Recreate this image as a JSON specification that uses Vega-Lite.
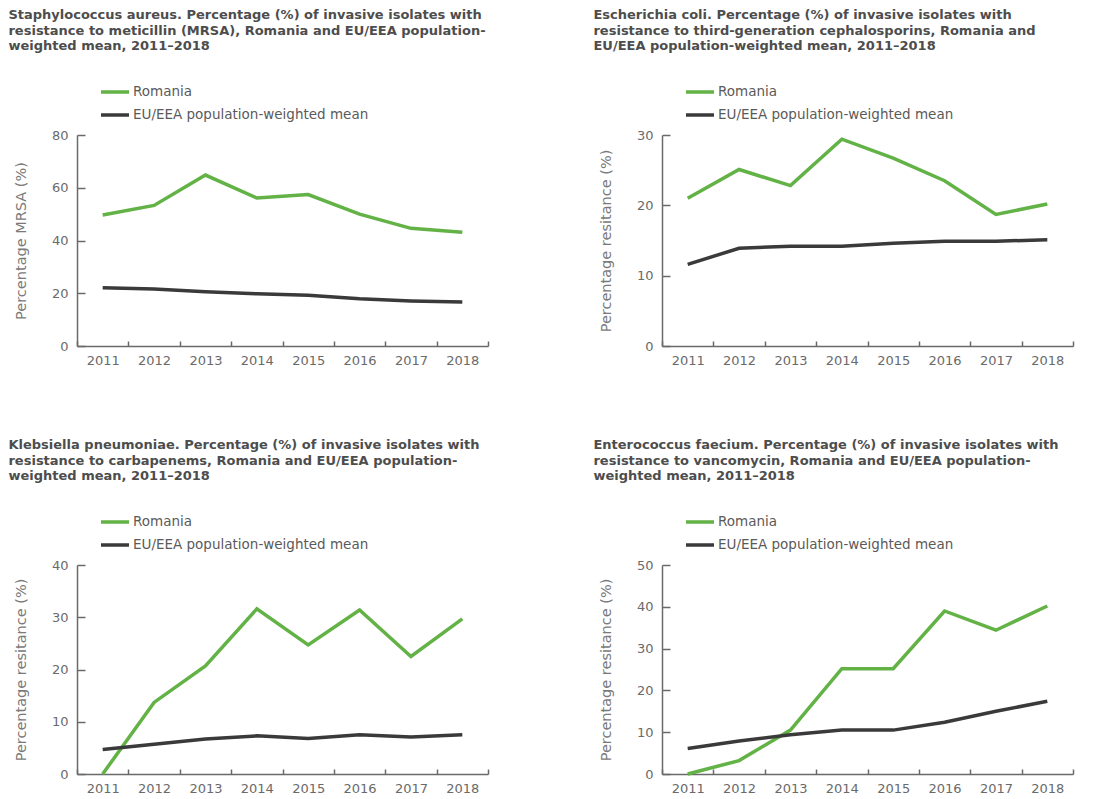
{
  "$schema": "https://vega.github.io/schema/vega-lite/v6.json",
  "background": "white",
  "padding": {"left": 8, "top": 9, "right": 5, "bottom": 2},
  "data": {"values": [
    {"panel": "S", "year": 2011, "series": "Romania", "value": 49.7},
    {"panel": "S", "year": 2012, "series": "Romania", "value": 53.3},
    {"panel": "S", "year": 2013, "series": "Romania", "value": 64.8},
    {"panel": "S", "year": 2014, "series": "Romania", "value": 56.1},
    {"panel": "S", "year": 2015, "series": "Romania", "value": 57.4},
    {"panel": "S", "year": 2016, "series": "Romania", "value": 50.0},
    {"panel": "S", "year": 2017, "series": "Romania", "value": 44.6},
    {"panel": "S", "year": 2018, "series": "Romania", "value": 43.1},
    {"panel": "S", "year": 2011, "series": "EU/EEA population-weighted mean", "value": 22.1},
    {"panel": "S", "year": 2012, "series": "EU/EEA population-weighted mean", "value": 21.6},
    {"panel": "S", "year": 2013, "series": "EU/EEA population-weighted mean", "value": 20.6},
    {"panel": "S", "year": 2014, "series": "EU/EEA population-weighted mean", "value": 19.8},
    {"panel": "S", "year": 2015, "series": "EU/EEA population-weighted mean", "value": 19.2},
    {"panel": "S", "year": 2016, "series": "EU/EEA population-weighted mean", "value": 17.9},
    {"panel": "S", "year": 2017, "series": "EU/EEA population-weighted mean", "value": 17.1},
    {"panel": "S", "year": 2018, "series": "EU/EEA population-weighted mean", "value": 16.7},
    {"panel": "E", "year": 2011, "series": "Romania", "value": 21.0},
    {"panel": "E", "year": 2012, "series": "Romania", "value": 25.1},
    {"panel": "E", "year": 2013, "series": "Romania", "value": 22.8},
    {"panel": "E", "year": 2014, "series": "Romania", "value": 29.4},
    {"panel": "E", "year": 2015, "series": "Romania", "value": 26.7},
    {"panel": "E", "year": 2016, "series": "Romania", "value": 23.5},
    {"panel": "E", "year": 2017, "series": "Romania", "value": 18.7},
    {"panel": "E", "year": 2018, "series": "Romania", "value": 20.2},
    {"panel": "E", "year": 2011, "series": "EU/EEA population-weighted mean", "value": 11.6},
    {"panel": "E", "year": 2012, "series": "EU/EEA population-weighted mean", "value": 13.9},
    {"panel": "E", "year": 2013, "series": "EU/EEA population-weighted mean", "value": 14.2},
    {"panel": "E", "year": 2014, "series": "EU/EEA population-weighted mean", "value": 14.2},
    {"panel": "E", "year": 2015, "series": "EU/EEA population-weighted mean", "value": 14.6},
    {"panel": "E", "year": 2016, "series": "EU/EEA population-weighted mean", "value": 14.9},
    {"panel": "E", "year": 2017, "series": "EU/EEA population-weighted mean", "value": 14.9},
    {"panel": "E", "year": 2018, "series": "EU/EEA population-weighted mean", "value": 15.1},
    {"panel": "K", "year": 2011, "series": "Romania", "value": 0},
    {"panel": "K", "year": 2012, "series": "Romania", "value": 13.7},
    {"panel": "K", "year": 2013, "series": "Romania", "value": 20.7},
    {"panel": "K", "year": 2014, "series": "Romania", "value": 31.6},
    {"panel": "K", "year": 2015, "series": "Romania", "value": 24.7},
    {"panel": "K", "year": 2016, "series": "Romania", "value": 31.4},
    {"panel": "K", "year": 2017, "series": "Romania", "value": 22.5},
    {"panel": "K", "year": 2018, "series": "Romania", "value": 29.7},
    {"panel": "K", "year": 2011, "series": "EU/EEA population-weighted mean", "value": 4.7},
    {"panel": "K", "year": 2012, "series": "EU/EEA population-weighted mean", "value": 5.7},
    {"panel": "K", "year": 2013, "series": "EU/EEA population-weighted mean", "value": 6.7},
    {"panel": "K", "year": 2014, "series": "EU/EEA population-weighted mean", "value": 7.3},
    {"panel": "K", "year": 2015, "series": "EU/EEA population-weighted mean", "value": 6.8},
    {"panel": "K", "year": 2016, "series": "EU/EEA population-weighted mean", "value": 7.5},
    {"panel": "K", "year": 2017, "series": "EU/EEA population-weighted mean", "value": 7.1},
    {"panel": "K", "year": 2018, "series": "EU/EEA population-weighted mean", "value": 7.5},
    {"panel": "F", "year": 2011, "series": "Romania", "value": 0},
    {"panel": "F", "year": 2012, "series": "Romania", "value": 3.2},
    {"panel": "F", "year": 2013, "series": "Romania", "value": 10.5},
    {"panel": "F", "year": 2014, "series": "Romania", "value": 25.2},
    {"panel": "F", "year": 2015, "series": "Romania", "value": 25.2},
    {"panel": "F", "year": 2016, "series": "Romania", "value": 39.0},
    {"panel": "F", "year": 2017, "series": "Romania", "value": 34.4},
    {"panel": "F", "year": 2018, "series": "Romania", "value": 40.2},
    {"panel": "F", "year": 2011, "series": "EU/EEA population-weighted mean", "value": 6.1},
    {"panel": "F", "year": 2012, "series": "EU/EEA population-weighted mean", "value": 7.9},
    {"panel": "F", "year": 2013, "series": "EU/EEA population-weighted mean", "value": 9.4},
    {"panel": "F", "year": 2014, "series": "EU/EEA population-weighted mean", "value": 10.5},
    {"panel": "F", "year": 2015, "series": "EU/EEA population-weighted mean", "value": 10.5},
    {"panel": "F", "year": 2016, "series": "EU/EEA population-weighted mean", "value": 12.4},
    {"panel": "F", "year": 2017, "series": "EU/EEA population-weighted mean", "value": 15.0},
    {"panel": "F", "year": 2018, "series": "EU/EEA population-weighted mean", "value": 17.4}
  ]},
  "config": {
    "view": {"stroke": null},
    "font": "DejaVu Sans",
    "title": {"anchor": "start", "frame": "bounds", "font": "DejaVu Sans", "fontSize": 13, "fontWeight": "bold", "color": "#4d4d4d", "lineHeight": 15.5, "offset": 23, "dx": -5},
    "axis": {"grid": false, "domainColor": "#6a6a6a", "domainWidth": 1.5, "tickColor": "#6a6a6a", "tickWidth": 1.5, "labelColor": "#6a6a6a", "labelFont": "DejaVu Sans", "labelFontSize": 13, "titleFont": "DejaVu Sans", "titleColor": "#7a7a7a", "titleFontSize": 14.5, "titleFontWeight": "normal"},
    "axisX": {"tickSize": -5, "labelPadding": 13, "labelAngle": 0, "title": null},
    "axisY": {"tickSize": -8, "labelPadding": 17, "titlePadding": 23},
    "legend": {"orient": "none", "legendX": 22, "legendY": -59, "title": null, "symbolType": "stroke", "symbolStrokeWidth": 3.5, "symbolSize": 784, "labelFont": "DejaVu Sans", "labelFontSize": 13.5, "labelColor": "#5a5a5a", "labelOffset": 2, "labelLimit": 0, "rowPadding": -8}
  },
  "columns": 2,
  "spacing": {"row": 72, "column": 104},
  "concat": [
    {
      "title": {"text": ["Staphylococcus aureus. Percentage (%) of invasive isolates with", "resistance to meticillin (MRSA), Romania and EU/EEA population-", "weighted mean, 2011–2018"]},
      "width": 411, "height": 211,
      "transform": [{"filter": "datum.panel === 'S'"}],
      "mark": {"type": "line", "strokeWidth": 3.5},
      "encoding": {
        "x": {"field": "year", "type": "ordinal", "bandPosition": 0.5, "scale": {"type": "band", "paddingInner": 0, "paddingOuter": 0}, "axis": {"tickBand": "extent"}},
        "y": {"field": "value", "type": "quantitative", "scale": {"domain": [0, 80]}, "axis": {"values": [0, 20, 40, 60, 80], "title": "Percentage MRSA (%)"}},
        "color": {"field": "series", "type": "nominal", "sort": ["Romania", "EU/EEA population-weighted mean"], "scale": {"domain": ["Romania", "EU/EEA population-weighted mean"], "range": ["#62b246", "#3a3a3a"]}}
      }
    },
    {
      "title": {"text": ["Escherichia coli. Percentage (%) of invasive isolates with", "resistance to third-generation cephalosporins, Romania and", "EU/EEA population-weighted mean, 2011–2018"]},
      "width": 411, "height": 211,
      "transform": [{"filter": "datum.panel === 'E'"}],
      "mark": {"type": "line", "strokeWidth": 3.5},
      "encoding": {
        "x": {"field": "year", "type": "ordinal", "bandPosition": 0.5, "scale": {"type": "band", "paddingInner": 0, "paddingOuter": 0}, "axis": {"tickBand": "extent"}},
        "y": {"field": "value", "type": "quantitative", "scale": {"domain": [0, 30]}, "axis": {"values": [0, 10, 20, 30], "title": "Percentage resitance (%)"}},
        "color": {"field": "series", "type": "nominal", "sort": ["Romania", "EU/EEA population-weighted mean"], "scale": {"domain": ["Romania", "EU/EEA population-weighted mean"], "range": ["#62b246", "#3a3a3a"]}}
      }
    },
    {
      "title": {"text": ["Klebsiella pneumoniae. Percentage (%) of invasive isolates with", "resistance to carbapenems, Romania and EU/EEA population-", "weighted mean, 2011–2018"]},
      "width": 411, "height": 209,
      "transform": [{"filter": "datum.panel === 'K'"}],
      "mark": {"type": "line", "strokeWidth": 3.5},
      "encoding": {
        "x": {"field": "year", "type": "ordinal", "bandPosition": 0.5, "scale": {"type": "band", "paddingInner": 0, "paddingOuter": 0}, "axis": {"tickBand": "extent"}},
        "y": {"field": "value", "type": "quantitative", "scale": {"domain": [0, 40]}, "axis": {"values": [0, 10, 20, 30, 40], "title": "Percentage resitance (%)"}},
        "color": {"field": "series", "type": "nominal", "sort": ["Romania", "EU/EEA population-weighted mean"], "scale": {"domain": ["Romania", "EU/EEA population-weighted mean"], "range": ["#62b246", "#3a3a3a"]}}
      }
    },
    {
      "title": {"text": ["Enterococcus faecium. Percentage (%) of invasive isolates with", "resistance to vancomycin, Romania and EU/EEA population-", "weighted mean, 2011–2018"]},
      "width": 411, "height": 209,
      "transform": [{"filter": "datum.panel === 'F'"}],
      "mark": {"type": "line", "strokeWidth": 3.5},
      "encoding": {
        "x": {"field": "year", "type": "ordinal", "bandPosition": 0.5, "scale": {"type": "band", "paddingInner": 0, "paddingOuter": 0}, "axis": {"tickBand": "extent"}},
        "y": {"field": "value", "type": "quantitative", "scale": {"domain": [0, 50]}, "axis": {"values": [0, 10, 20, 30, 40, 50], "title": "Percentage resitance (%)"}},
        "color": {"field": "series", "type": "nominal", "sort": ["Romania", "EU/EEA population-weighted mean"], "scale": {"domain": ["Romania", "EU/EEA population-weighted mean"], "range": ["#62b246", "#3a3a3a"]}}
      }
    }
  ],
  "resolve": {"scale": {"color": "independent", "y": "independent", "x": "independent"}}
}
